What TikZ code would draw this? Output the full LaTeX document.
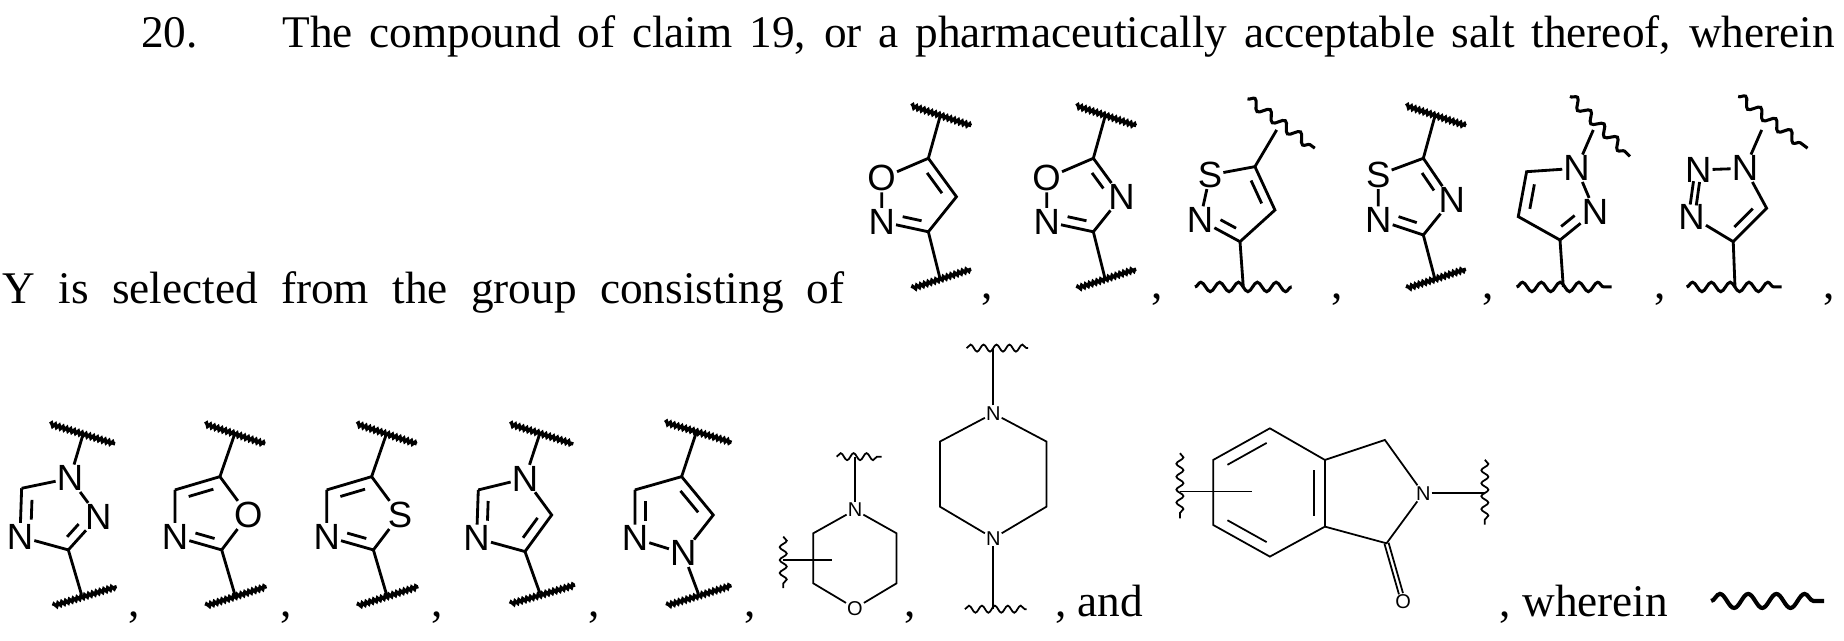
\documentclass[tikz,border=0pt]{standalone}
\usepackage{fontspec}
\setmainfont{Liberation Serif}
\newfontfamily\af{Liberation Sans}
\usetikzlibrary{calc,decorations.pathmorphing}
\newcommand\inb[5]{\draw[bond, shorten <=#4, shorten >=#5] ($(#1)!0.3!(#3)$) -- ($(#2)!0.3!(#3)$);}
\newcommand\dbb[4]{\draw[#4] ($(#1)!#3!90:(#2)$) -- ($(#2)!#3!-90:(#1)$); \draw[#4] ($(#1)!#3!-90:(#2)$) -- ($(#2)!#3!90:(#1)$);}
\begin{document}
\begin{tikzpicture}[x=1pt,y=-1pt,
  bond/.style={line width=2.4pt},
  tb/.style={line width=1.5pt},
  lbl/.style={font=\af\fontsize{31}{34}\selectfont, inner sep=0.8pt},
  sl/.style={font=\af\fontsize{17}{19}\selectfont, inner sep=0.8pt},
  tx/.style={font=\fontsize{38.5}{46}\selectfont, inner sep=0pt, anchor=base west},
  hw/.style={line width=2.8pt, decorate, decoration={snake,amplitude=1.3pt,segment length=3.4pt}},
  sw/.style={line width=2.6pt, decorate, decoration={snake,amplitude=4pt,segment length=16pt}},
  tw/.style={line width=1.5pt, decorate, decoration={snake,amplitude=3pt,segment length=11pt}}]
\useasboundingbox (0,0) rectangle (1568,545);
% text
\node[tx] (t0) at (120,40) {20.};
\node[tx] (t1) at (240,40) {\makebox[1320pt][s]{The compound of claim 19, or a pharmaceutically acceptable salt thereof, wherein}};
\node[tx] (t2) at (2,258) {\makebox[716pt][s]{Y is selected from the group consisting of}};
\foreach \i/\x in {1/834,2/979,3/1132,4/1260,5/1407,6/1550}{\node[tx] (ca\i) at (\x,254) {,};}
\foreach \i/\x in {1/109,2/238,3/367,4/500,5/633,6/769}{\node[tx] (cb\i) at (\x,524) {,};}
\node[tx] (tand) at (897,524) {, and};
\node[tx] (twh) at (1275,524) {, wherein};
\draw[line width=3.5pt, decorate, decoration={snake,amplitude=6pt,segment length=24pt}] (1455,511) coordinate (lw1) -- (1551,511) coordinate (lw2);

% ---------- Ring 1 isoxazole
\node[lbl] (r1o) at (749.7,151.6) {O};
\node[lbl] (r1n) at (749.7,188.5) {N};
\coordinate (r1c5) at (789.4,134.6); \coordinate (r1c4) at (813.3,167.3); \coordinate (r1c3) at (789.4,197.1);
\coordinate (r1m) at (780,168);
\draw[bond] (r1o) -- (r1c5) -- (r1c4) -- (r1c3) -- (r1n) -- (r1o);
\inb{r1c5}{r1c4}{r1m}{3pt}{4pt} \inb{r1c3}{r1n}{r1m}{3pt}{9pt}
\coordinate (r1t) at (799.3,99.2); \coordinate (r1b) at (799.3,236.7);
\draw[bond] (r1c5) -- (r1t); \draw[bond] (r1c3) -- (r1b);
\draw[hw] (774.8,89.9) -- (825.8,106.9); \draw[hw] (775.6,245.2) -- (825.8,228.8);
% ---------- Ring 2 oxadiazole
\node[lbl] (r2o) at (890,151.6) {O};
\node[lbl] (r2n2) at (890,188.5) {N};
\node[lbl] (r2n4) at (953.6,167.3) {N};
\coordinate (r2c5) at (929.7,134.6); \coordinate (r2c3) at (929.7,197.1);
\coordinate (r2m) at (920,168);
\draw[bond] (r2o) -- (r2c5) -- (r2n4) -- (r2c3) -- (r2n2) -- (r2o);
\inb{r2c5}{r2n4}{r2m}{3pt}{9pt} \inb{r2c3}{r2n2}{r2m}{3pt}{9pt}
\coordinate (r2t) at (939.6,99.2); \coordinate (r2b) at (939.6,236.7);
\draw[bond] (r2c5) -- (r2t); \draw[bond] (r2c3) -- (r2b);
\draw[hw] (915.1,89.9) -- (966.1,106.9); \draw[hw] (915.9,245.2) -- (966.1,228.8);
% ---------- Ring 3 isothiazole
\node[lbl] (r3s) at (1028.9,148.8) {S};
\node[lbl] (r3n) at (1020.4,187.1) {N};
\coordinate (r3c5) at (1067.1,141.7); \coordinate (r3c4) at (1084.1,178.6); \coordinate (r3c3) at (1054.4,205.5);
\coordinate (r3m) at (1052,172);
\draw[bond] (r3s) -- (r3c5) -- (r3c4) -- (r3c3) -- (r3n) -- (r3s);
\inb{r3c5}{r3c4}{r3m}{3pt}{4pt} \inb{r3c3}{r3n}{r3m}{3pt}{9pt}
\coordinate (r3t) at (1085.6,110.5); \coordinate (r3b) at (1057.2,244);
\draw[bond] (r3c5) -- (r3t); \draw[bond] (r3c3) -- (r3b);
\draw[sw] (1060.8,84) -- (1118,126); \draw[sw] (1016.1,244) -- (1098.3,244);
% ---------- Ring 4 thiadiazole
\node[lbl] (r4s) at (1172,148.8) {S};
\node[lbl] (r4n2) at (1172,187.1) {N};
\node[lbl] (r4n4) at (1234.4,170) {N};
\coordinate (r4c5) at (1210.3,134.6); \coordinate (r4c3) at (1210.3,199.8);
\coordinate (r4m) at (1201,168);
\draw[bond] (r4s) -- (r4c5) -- (r4n4) -- (r4c3) -- (r4n2) -- (r4s);
\inb{r4c5}{r4n4}{r4m}{3pt}{9pt} \inb{r4c3}{r4n2}{r4m}{3pt}{9pt}
\coordinate (r4t) at (1220,99.2); \coordinate (r4b) at (1220,236.7);
\draw[bond] (r4c5) -- (r4t); \draw[bond] (r4c3) -- (r4b);
\draw[hw] (1195.5,89.9) -- (1246.5,106.9); \draw[hw] (1196.3,245.2) -- (1246.5,228.8);
% ---------- Ring 5 pyrazol-1-yl
\node[lbl] (r5n1) at (1340.6,143.1) {N};
\node[lbl] (r5n2) at (1356.2,180) {N};
\coordinate (r5c3) at (1326.5,204.1); \coordinate (r5c4) at (1291,184.2); \coordinate (r5c5) at (1298.1,146);
\coordinate (r5m) at (1322,172);
\draw[bond] (r5n1) -- (r5n2) -- (r5c3) -- (r5c4) -- (r5c5) -- (r5n1);
\inb{r5n2}{r5c3}{r5m}{9pt}{3pt} \inb{r5c4}{r5c5}{r5m}{3pt}{3pt}
\coordinate (r5t) at (1354.8,110.5); \coordinate (r5b) at (1329.3,244);
\draw[bond] (r5n1) -- (r5t); \draw[bond] (r5c3) -- (r5b);
\draw[sw] (1335,82) -- (1386,133); \draw[sw] (1289.6,244) -- (1370.4,244);
% ---------- Ring 6 1,2,3-triazol-1-yl
\node[lbl] (r6n1) at (1483.8,143.1) {N};
\node[lbl] (r6n2) at (1444,144.5) {N};
\node[lbl] (r6n3) at (1438.4,184.2) {N};
\coordinate (r6c4) at (1473.8,205.5); \coordinate (r6c5) at (1502.2,177.1);
\coordinate (r6m) at (1470,171);
\draw[bond] (r6n1) -- (r6n2); \draw[bond] (r6n3) -- (r6c4) -- (r6c5) -- (r6n1);
\dbb{r6n2}{r6n3}{2.6pt}{bond,shorten <=10pt,shorten >=10pt}
\inb{r6c4}{r6c5}{r6m}{3pt}{3pt}
\coordinate (r6t) at (1498,110.5); \coordinate (r6b) at (1475.3,244);
\draw[bond] (r6n1) -- (r6t); \draw[bond] (r6c4) -- (r6b);
\draw[sw] (1478,82) -- (1537,126); \draw[sw] (1434.2,244) -- (1515,244);

% ---------- Ring 7 1,2,4-triazole
\node[lbl] (r7n1) at (59.5,406.7) {N};
\node[lbl] (r7n2) at (83.6,439.3) {N};
\node[lbl] (r7n4) at (17,456.3) {N};
\coordinate (r7c5) at (18.4,415.2); \coordinate (r7c3) at (58.1,467.6);
\coordinate (r7m) at (48,438);
\draw[bond] (r7c5) -- (r7n1) -- (r7n2) -- (r7c3) -- (r7n4) -- (r7c5);
\inb{r7n2}{r7c3}{r7m}{9pt}{3pt} \inb{r7n4}{r7c5}{r7m}{9pt}{3pt}
\coordinate (r7t) at (70.9,368.4); \coordinate (r7b) at (69.4,505.9);
\draw[bond] (r7n1) -- (r7t); \draw[bond] (r7c3) -- (r7b);
\draw[hw] (42.5,360.5) -- (97.8,377.5); \draw[hw] (45.3,515.2) -- (99.2,498.8);
% ---------- Ring 8 oxazole
\node[lbl] (r8o) at (211.1,437.9) {O};
\node[lbl] (r8n) at (148.8,456.3) {N};
\coordinate (r8c4) at (148.8,416.6); \coordinate (r8c5) at (187,405.3); \coordinate (r8c2) at (188.5,467.6);
\coordinate (r8m) at (178,438);
\draw[bond] (r8c4) -- (r8c5) -- (r8o) -- (r8c2) -- (r8n) -- (r8c4);
\inb{r8c4}{r8c5}{r8m}{3pt}{3pt} \inb{r8c2}{r8n}{r8m}{3pt}{9pt}
\coordinate (r8t) at (199.8,368.4); \coordinate (r8b) at (199.8,505.9);
\draw[bond] (r8c5) -- (r8t); \draw[bond] (r8c2) -- (r8b);
\draw[hw] (174.3,360.5) -- (225.3,377.5); \draw[hw] (175.1,515.2) -- (226.7,498.8);
% ---------- Ring 9 thiazole
\node[lbl] (r9s) at (340.1,437.9) {S};
\node[lbl] (r9n) at (277.8,456.3) {N};
\coordinate (r9c4) at (277.8,416.6); \coordinate (r9c5) at (316,405.3); \coordinate (r9c2) at (317.5,467.6);
\coordinate (r9m) at (307,438);
\draw[bond] (r9c4) -- (r9c5) -- (r9s) -- (r9c2) -- (r9n) -- (r9c4);
\inb{r9c4}{r9c5}{r9m}{3pt}{3pt} \inb{r9c2}{r9n}{r9m}{3pt}{9pt}
\coordinate (r9t) at (328.8,368.4); \coordinate (r9b) at (328.8,505.9);
\draw[bond] (r9c5) -- (r9t); \draw[bond] (r9c2) -- (r9b);
\draw[hw] (303.3,360.5) -- (354.3,377.5); \draw[hw] (304.1,515.2) -- (355.7,498.8);
% ---------- Ring 10 imidazol-1-yl
\node[lbl] (r10n1) at (446.4,406.9) {N};
\node[lbl] (r10n3) at (405.3,457.7) {N};
\coordinate (r10c2) at (406.7,416.6); \coordinate (r10c5) at (469.1,437.9); \coordinate (r10c4) at (446.4,469);
\coordinate (r10m) at (435,438);
\draw[bond] (r10c2) -- (r10n1) -- (r10c5) -- (r10c4) -- (r10n3) -- (r10c2);
\inb{r10c5}{r10c4}{r10m}{3pt}{3pt} \inb{r10n3}{r10c2}{r10m}{9pt}{3pt}
\coordinate (r10t) at (459.1,368.4); \coordinate (r10b) at (459.1,504.5);
\draw[bond] (r10n1) -- (r10t); \draw[bond] (r10c4) -- (r10b);
\draw[hw] (433.6,360.5) -- (487.5,377.5); \draw[hw] (434,513.5) -- (489,497.5);
% ---------- Ring 11 pyrazol-1-yl (4-substituted)
\node[lbl] (r11n1) at (581,470.5) {N};
\node[lbl] (r11n2) at (539.9,457.7) {N};
\coordinate (r11c3) at (539.9,416.6); \coordinate (r11c4) at (579.6,405.3); \coordinate (r11c5) at (606.5,437.9);
\coordinate (r11m) at (570,438);
\draw[bond] (r11c3) -- (r11c4) -- (r11c5) -- (r11n1) -- (r11n2) -- (r11c3);
\inb{r11c4}{r11c5}{r11m}{3pt}{3pt} \inb{r11n2}{r11c3}{r11m}{9pt}{3pt}
\coordinate (r11t) at (592.3,367); \coordinate (r11b) at (593.7,504.5);
\draw[bond] (r11c4) -- (r11t); \draw[bond] (r11n1) -- (r11b);
\draw[hw] (565.4,359.1) -- (622.1,376.1); \draw[hw] (567,515) -- (622,498);

% ---------- Morpholine
\node[sl] (mn) at (727,433.6) {N};
\node[sl] (mo) at (727,517.2) {O};
\coordinate (m1) at (762.4,453.5); \coordinate (m2) at (762.4,496); \coordinate (m3) at (691.5,496); \coordinate (m4) at (691.5,453.5);
\draw[tb] (mn) -- (m1) -- (m2) -- (mo) -- (m3) -- (m4) -- (mn);
\coordinate (mt) at (727,388.3);
\draw[tb] (mn) -- (mt);
\draw[tw] (711.4,388.3) -- (749.6,388.3);
\coordinate (ml1) at (666,476.2); \coordinate (ml2) at (707.1,476.2);
\draw[tb] (ml1) -- (ml2);
\draw[tw] (666,456.3) -- (666,500.2);
% ---------- Piperazine
\node[sl] (pn1) at (844.6,351.5) {N};
\node[sl] (pn4) at (844.6,457.7) {N};
\coordinate (p2) at (889.9,375.5); \coordinate (p3) at (889.9,430.8); \coordinate (p5) at (799.2,430.8); \coordinate (p6) at (799.2,375.5);
\draw[tb] (pn1) -- (p2) -- (p3) -- (pn4) -- (p5) -- (p6) -- (pn1);
\coordinate (pt) at (844.6,296); \coordinate (pb) at (844.6,518);
\draw[tb] (pn1) -- (pt); \draw[tb] (pn4) -- (pb);
\draw[tw] (821.9,296) -- (874.3,296); \draw[tw] (820.5,518) -- (872.9,518);
% ---------- Isoindolinone
\coordinate (b1) at (1079.8,364.2); \coordinate (b2) at (1126.6,391.1); \coordinate (b3) at (1126.6,447.8);
\coordinate (b4) at (1079.8,473.3); \coordinate (b5) at (1031.6,446.4); \coordinate (b6) at (1031.6,391.1);
\coordinate (bm) at (1079.2,419);
\draw[tb] (b1) -- (b2) -- (b3) -- (b4) -- (b5) -- (b6) -- cycle;
\draw[tb, shorten <=3pt, shorten >=3pt] ($(b6)!0.2!(bm)$) -- ($(b1)!0.2!(bm)$);
\draw[tb, shorten <=3pt, shorten >=3pt] ($(b2)!0.2!(bm)$) -- ($(b3)!0.2!(bm)$);
\draw[tb, shorten <=3pt, shorten >=3pt] ($(b4)!0.2!(bm)$) -- ($(b5)!0.2!(bm)$);
\node[sl] (in) at (1210.2,419.5) {N};
\node[sl] (io) at (1193.2,511.6) {O};
\coordinate (ich2) at (1177.6,374.1); \coordinate (ico) at (1179,462);
\draw[tb] (b2) -- (ich2) -- (in) -- (ico) -- (b3);
\dbb{ico}{io}{1.8pt}{tb,shorten >=7pt}
\coordinate (ir) at (1262.6,419.5);
\draw[tb] (in) -- (ir);
\draw[tw] (1262.6,391) -- (1262.6,446);
\coordinate (il1) at (1003.3,418); \coordinate (il2) at (1064.2,418);
\draw[tb] (il1) -- (il2);
\draw[tw] (1003.3,385.4) -- (1003.3,440.7);
\end{tikzpicture}
\end{document}
